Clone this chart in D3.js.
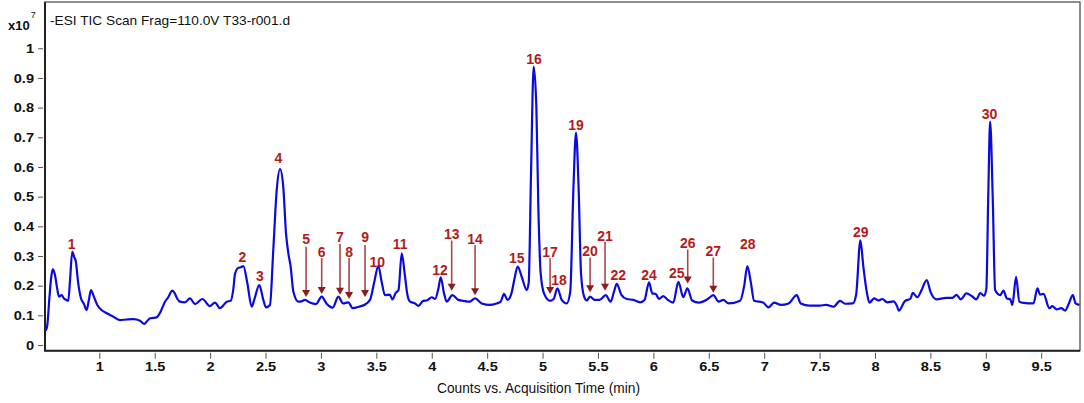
<!DOCTYPE html>
<html>
<head>
<meta charset="utf-8">
<script src="https://cdn.jsdelivr.net/npm/d3@7"></script>
<style>
	body { margin: 0; background: #fff; }
	svg { display: block; font-family: "Liberation Sans", Arial, sans-serif; }
</style>
</head>
<body>
<div id="chart"></div>
<script>
// retention time (min) and counts (x10^7)
var times = [0.515, 0.53, 0.55, 0.565, 0.58, 0.60, 0.62, 0.636, 0.66, 0.681, 0.70, 0.72, 0.736, 0.756, 0.775, 0.787, 0.81, 0.835, 0.86, 0.886,
	0.905, 0.925, 0.946, 0.982, 1.02, 1.067, 1.12, 1.187, 1.25, 1.307, 1.367, 1.406, 1.43, 1.458, 1.518, 1.55, 1.593, 1.62, 1.659, 1.68,
	1.705, 1.728, 1.773, 1.818, 1.864, 1.93, 1.999, 2.044, 2.089, 2.15, 2.186, 2.21, 2.225, 2.254, 2.275, 2.30, 2.336, 2.375, 2.40, 2.444,
	2.48, 2.504, 2.54, 2.57, 2.601, 2.631, 2.66, 2.685, 2.706, 2.727, 2.751, 2.796, 2.83, 2.856, 2.9, 2.956, 3.007, 3.05, 3.107, 3.157,
	3.2, 3.247, 3.287, 3.35, 3.39, 3.443, 3.479, 3.518, 3.548, 3.578, 3.62, 3.645, 3.675, 3.70, 3.729, 3.759, 3.78, 3.804, 3.85, 3.879,
	3.924, 3.955, 4.0, 4.03, 4.06, 4.081, 4.111, 4.135, 4.186, 4.24, 4.285, 4.34, 4.391, 4.451, 4.526, 4.586, 4.62, 4.653, 4.683, 4.72,
	4.745, 4.776, 4.812, 4.857, 4.875, 4.896, 4.92, 4.944, 4.962, 4.983, 5.013, 5.068, 5.10, 5.134, 5.173, 5.218, 5.25, 5.278, 5.302, 5.326,
	5.347, 5.375, 5.40, 5.428, 5.47, 5.515, 5.57, 5.615, 5.645, 5.67, 5.71, 5.76, 5.82, 5.88, 5.92, 5.961, 5.99, 6.022, 6.05, 6.09,
	6.13, 6.18, 6.226, 6.27, 6.307, 6.35, 6.41, 6.487, 6.541, 6.59, 6.63, 6.68, 6.783, 6.82, 6.848, 6.88, 6.909, 6.99, 7.038, 7.09,
	7.15, 7.22, 7.294, 7.33, 7.41, 7.5, 7.56, 7.625, 7.685, 7.73, 7.8, 7.83, 7.868, 7.895, 7.93, 7.95, 7.992, 8.03, 8.066, 8.11,
	8.166, 8.2, 8.214, 8.27, 8.32, 8.341, 8.383, 8.42, 8.467, 8.5, 8.555, 8.64, 8.70, 8.735, 8.775, 8.825, 8.87, 8.915, 8.95, 8.985,
	9.005, 9.022, 9.039, 9.063, 9.084, 9.129, 9.159, 9.19, 9.22, 9.24, 9.273, 9.303, 9.34, 9.43, 9.466, 9.49, 9.52, 9.574, 9.6, 9.64,
	9.68, 9.716, 9.75, 9.785, 9.81, 9.845];
var counts = [0.048, 0.065, 0.16, 0.225, 0.256, 0.236, 0.19, 0.163, 0.168, 0.157, 0.152, 0.149, 0.219, 0.314, 0.295, 0.284, 0.208, 0.157, 0.14, 0.118,
	0.15, 0.185, 0.168, 0.135, 0.118, 0.107, 0.097, 0.084, 0.086, 0.087, 0.082, 0.071, 0.08, 0.09, 0.093, 0.11, 0.146, 0.16, 0.183, 0.175,
	0.155, 0.146, 0.144, 0.157, 0.138, 0.155, 0.131, 0.143, 0.124, 0.146, 0.149, 0.19, 0.24, 0.26, 0.262, 0.266, 0.208, 0.129, 0.155, 0.202,
	0.152, 0.127, 0.135, 0.32, 0.522, 0.593, 0.534, 0.376, 0.309, 0.264, 0.18, 0.146, 0.148, 0.152, 0.143, 0.138, 0.163, 0.14, 0.126, 0.163,
	0.14, 0.144, 0.124, 0.13, 0.135, 0.152, 0.208, 0.266, 0.213, 0.168, 0.17, 0.154, 0.176, 0.185, 0.309, 0.23, 0.17, 0.146, 0.14, 0.132,
	0.149, 0.15, 0.161, 0.155, 0.19, 0.228, 0.174, 0.146, 0.168, 0.152, 0.149, 0.146, 0.157, 0.14, 0.135, 0.14, 0.145, 0.172, 0.152, 0.175,
	0.22, 0.264, 0.23, 0.185, 0.21, 0.579, 0.938, 0.803, 0.466, 0.242, 0.174, 0.149, 0.155, 0.191, 0.152, 0.14, 0.18, 0.522, 0.716, 0.522,
	0.242, 0.163, 0.15, 0.163, 0.152, 0.152, 0.168, 0.146, 0.18, 0.206, 0.17, 0.155, 0.152, 0.144, 0.152, 0.211, 0.174, 0.172, 0.155, 0.165,
	0.152, 0.143, 0.213, 0.161, 0.191, 0.15, 0.143, 0.154, 0.168, 0.146, 0.152, 0.14, 0.149, 0.2, 0.266, 0.21, 0.149, 0.143, 0.127, 0.143,
	0.135, 0.14, 0.168, 0.14, 0.133, 0.133, 0.135, 0.129, 0.149, 0.139, 0.14, 0.17, 0.353, 0.264, 0.17, 0.143, 0.157, 0.15, 0.155, 0.144,
	0.147, 0.13, 0.116, 0.148, 0.156, 0.176, 0.161, 0.185, 0.219, 0.18, 0.154, 0.159, 0.159, 0.169, 0.154, 0.174, 0.166, 0.154, 0.175, 0.166,
	0.19, 0.5, 0.753, 0.489, 0.185, 0.168, 0.183, 0.157, 0.154, 0.135, 0.23, 0.146, 0.142, 0.14, 0.191, 0.17, 0.172, 0.124, 0.131, 0.12,
	0.124, 0.116, 0.14, 0.168, 0.14, 0.135];

// peak labels: number, label position (min, x10^7)
var peakIds = ['1', '2', '3', '4', '5', '6', '7', '8', '9', '10', '11', '12', '13', '14', '15', '16', '17', '18', '19', '20',
	'21', '22', '24', '25', '26', '27', '28', '29', '30'];
var peakTimes = [0.751, 2.291, 2.45, 2.616, 2.866, 3.007, 3.172, 3.254, 3.398, 3.509, 3.714, 4.075, 4.18, 4.391, 4.767, 4.923, 5.068, 5.149, 5.302, 5.429,
	5.564, 5.684, 5.961, 6.211, 6.31, 6.541, 6.852, 7.872, 9.033];
var peakLabelValues = [0.34, 0.296, 0.232, 0.629, 0.356, 0.314, 0.363, 0.313, 0.365, 0.28, 0.34, 0.253, 0.374, 0.357, 0.292, 0.964, 0.314, 0.22, 0.741, 0.318,
	0.368, 0.234, 0.236, 0.242, 0.345, 0.318, 0.34, 0.382, 0.779];
// arrows for minor peaks: top of shaft and tip (x10^7), null = no arrow
var arrowTops = [null, null, null, null, 0.331, 0.293, 0.34, 0.293, 0.337, null, null, null, 0.352, 0.337, null, null, 0.292, null, null, 0.295,
	0.348, null, null, null, 0.322, 0.295, null, null, null];
var arrowTips = [null, null, null, null, 0.162, 0.172, 0.169, 0.155, 0.162, null, null, null, 0.183, 0.168, null, null, 0.172, null, null, 0.178,
	0.183, null, null, null, 0.207, 0.176, null, null, null];

var xTicks = [1, 1.5, 2, 2.5, 3, 3.5, 4, 4.5, 5, 5.5, 6, 6.5, 7, 7.5, 8, 8.5, 9, 9.5];
var yTicks = [0, 0.1, 0.2, 0.3, 0.4, 0.5, 0.6, 0.7, 0.8, 0.9, 1];

var width = 1084, height = 403;
var plot = {left: 45, right: 1080, top: 2, bottom: 350.7};
var stretch = 1.08; // glyphs in the source look a bit wider than Arial

var svg = d3.select('#chart').append('svg')
	.attr('width', width)
	.attr('height', height);

var x = d3.scaleLinear().domain([0.51, 9.85]).range([plot.left, plot.right]);
var y = d3.scaleLinear().domain([-0.0192, 1.156]).range([plot.bottom, plot.top]);

// frame
svg.append('rect')
	.attr('x', plot.left).attr('y', plot.top)
	.attr('width', plot.right - plot.left).attr('height', plot.bottom - plot.top)
	.attr('fill', 'none').attr('stroke', '#444').attr('stroke-width', 1.2);
svg.append('path')
	.attr('d', 'M' + plot.left + ',' + plot.top + 'V' + plot.bottom + 'H' + plot.right)
	.attr('fill', 'none').attr('stroke', '#222').attr('stroke-width', 2);

// axes
var xAxis = svg.append('g')
	.attr('transform', 'translate(0,' + (plot.bottom + 2) + ')')
	.call(d3.axisBottom(x).tickValues(xTicks).tickSize(6).tickPadding(3).tickFormat(d3.format('')));
var yAxis = svg.append('g')
	.attr('transform', 'translate(' + (plot.left - 2) + ',0)')
	.call(d3.axisLeft(y).tickValues(yTicks).tickSize(5).tickPadding(4).tickFormat(d3.format('')));
svg.selectAll('.domain').remove();
svg.selectAll('.tick line').attr('stroke', '#555');
svg.selectAll('.tick text')
	.attr('fill', '#111')
	.style('font-family', '"Liberation Sans", Arial, sans-serif')
	.style('font-size', '13.5px')
	.style('font-weight', 'bold');
xAxis.selectAll('.tick text').attr('transform', 'scale(' + stretch + ',1)');
yAxis.selectAll('.tick text')
	.attr('x', -9 / stretch)
	.attr('transform', 'scale(' + stretch + ',1)');

// trace
var values = times.map(function(t, i) { return {t: t, v: counts[i]}; });
var line = d3.line()
	.x(function(d) { return x(d.t); })
	.y(function(d) { return y(d.v); })
	.curve(d3.curveMonotoneX);
svg.append('path')
	.datum(values)
	.attr('d', line)
	.attr('fill', 'none')
	.attr('stroke', '#0a0ae0')
	.attr('stroke-width', 2.2)
	.attr('stroke-linejoin', 'round');

// arrows
var peaks = peakIds.map(function(id, i) {
	return {id: id, t: peakTimes[i], v: peakLabelValues[i], top: arrowTops[i], tip: arrowTips[i]};
});
var arrows = svg.append('g').selectAll('g')
	.data(peaks.filter(function(d) { return d.top !== null; }))
	.enter().append('g');
arrows.append('line')
	.attr('x1', function(d) { return x(d.t); })
	.attr('x2', function(d) { return x(d.t); })
	.attr('y1', function(d) { return y(d.top); })
	.attr('y2', function(d) { return y(d.tip) - 6; })
	.attr('stroke', '#a8474d')
	.attr('stroke-width', 1.6);
arrows.append('path')
	.attr('d', function(d) {
		var px = x(d.t), py = y(d.tip);
		return 'M' + (px - 4) + ',' + (py - 7) + 'L' + (px + 4) + ',' + (py - 7) + 'L' + px + ',' + py + 'Z';
	})
	.attr('fill', '#8e1b1f');

// peak numbers
svg.append('g').selectAll('text')
	.data(peaks)
	.enter().append('text')
	.attr('x', function(d) { return x(d.t); })
	.attr('y', function(d) { return y(d.v); })
	.attr('dy', '0.35em')
	.attr('text-anchor', 'middle')
	.attr('fill', '#b31b1b')
	.style('font-size', '14px')
	.style('font-weight', 'bold')
	.text(function(d) { return d.id; });

// titles
svg.append('text')
	.attr('x', 50).attr('y', 25)
	.attr('fill', '#111')
	.attr('textLength', 240)
	.attr('lengthAdjust', 'spacingAndGlyphs')
	.style('font-size', '13px')
	.text('-ESI TIC Scan Frag=110.0V T33-r001.d');
var yl = svg.append('text')
	.attr('x', 8).attr('y', 30)
	.attr('fill', '#111')
	.style('font-size', '13px')
	.style('font-weight', 'bold');
yl.append('tspan').text('x10');
yl.append('tspan').attr('dy', -12).attr('dx', 1).style('font-size', '9px').style('font-weight', 'normal').text('7');
svg.append('text')
	.attr('x', 437).attr('y', 393)
	.attr('fill', '#111')
	.attr('textLength', 203)
	.attr('lengthAdjust', 'spacingAndGlyphs')
	.style('font-size', '14px')
	.text('Counts vs. Acquisition Time (min)');
</script>
</body>
</html>
